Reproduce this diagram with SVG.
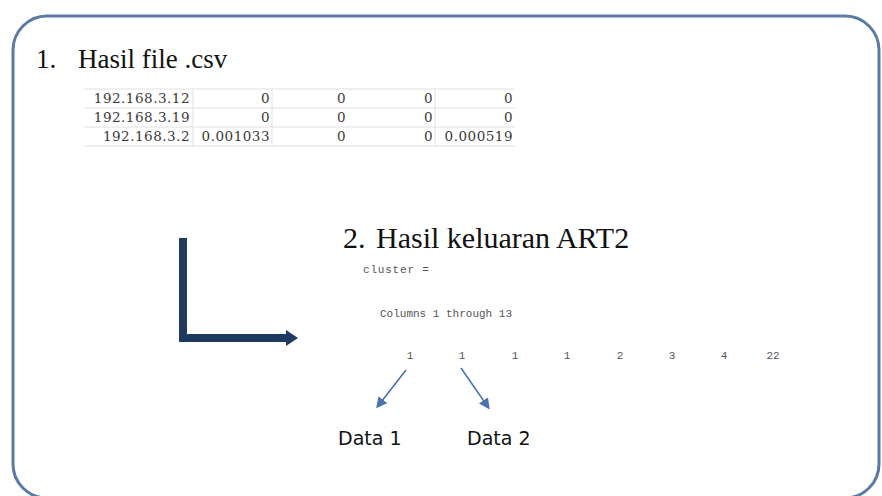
<svg xmlns="http://www.w3.org/2000/svg" width="882" height="496" viewBox="0 0 882 496">
<style>
.t1{font-family:"Liberation Serif",serif;font-size:27px;fill:#111}
.t2{font-family:"Liberation Serif",serif;font-size:30px;fill:#111}
.cell{font-family:"DejaVu Serif",serif;font-size:13.5px;letter-spacing:0.5px;fill:#3a3a3a}
.mono{font-family:"Liberation Mono",monospace;font-size:11px;fill:#555}
.lbl{font-family:"DejaVu Sans","Liberation Sans",sans-serif;font-size:19px;fill:#111}
.grid{stroke:#e0e0e0;stroke-width:1;fill:none}
.small{stroke:#4a72b0;stroke-width:1.6;fill:none}
</style>
<defs>
<marker id="ah" markerWidth="11" markerHeight="11" refX="8" refY="5.5" orient="auto" markerUnits="userSpaceOnUse">
<path d="M0,0 L11,5.5 L0,11 Z" fill="#4a72b0"/>
</marker>
<marker id="big" markerWidth="14" markerHeight="18" refX="4" refY="9" orient="auto" markerUnits="userSpaceOnUse">
<path d="M0,1 L12,9 L0,17 Z" fill="#1f3a5f"/>
</marker>
</defs>
<rect width="882" height="496" fill="#ffffff"/>
<rect id="frame" x="13" y="16" width="866" height="482" rx="34" ry="34" fill="none" stroke="#5b7aa6" stroke-width="3"/>
<g id="title1"><text class="t1" x="36" y="68">1.</text><text class="t1" x="78" y="68">Hasil file .csv</text></g>
<g id="table">
<path class="grid" d="M84,89 H515 M84,108 H515 M84,127 H515 M84,146 H515 M193,89 V146 M272,89 V146 M435,89 V146"/>
<g class="cell" text-anchor="end">
<text x="190" y="103">192.168.3.12</text><text x="270" y="103">0</text><text x="346" y="103">0</text><text x="433" y="103">0</text><text x="513" y="103">0</text>
<text x="190" y="122">192.168.3.19</text><text x="270" y="122">0</text><text x="346" y="122">0</text><text x="433" y="122">0</text><text x="513" y="122">0</text>
<text x="190" y="141">192.168.3.2</text><text x="270" y="141">0.001033</text><text x="346" y="141">0</text><text x="433" y="141">0</text><text x="513" y="141">0.000519</text>
</g>
</g>
<g id="title2"><text class="t2" x="343" y="248">2.</text><text class="t2" x="376" y="248">Hasil keluaran ART2</text></g>
<g id="output" class="mono">
<text x="363" y="273" letter-spacing="0.8">cluster =</text>
<text x="380" y="317">Columns 1 through 13</text>
<g text-anchor="middle">
<text x="410" y="359">1</text><text x="462" y="359">1</text><text x="515" y="359">1</text><text x="567" y="359">1</text><text x="620" y="359">2</text><text x="672" y="359">3</text><text x="724" y="359">4</text><text x="773" y="359">22</text>
</g>
</g>
<g id="data1"><text class="lbl" x="338" y="445">Data 1</text></g>
<g id="data2"><text class="lbl" x="467" y="445">Data 2</text></g>
<g id="connectors">
<path d="M183,238 V338 H290" fill="none" stroke="#1f3a5f" stroke-width="8" marker-end="url(#big)"/>
<line class="small" x1="406" y1="370" x2="378" y2="406" marker-end="url(#ah)"/>
<line class="small" x1="461" y1="368" x2="488" y2="407" marker-end="url(#ah)"/>
</g>
</svg>
